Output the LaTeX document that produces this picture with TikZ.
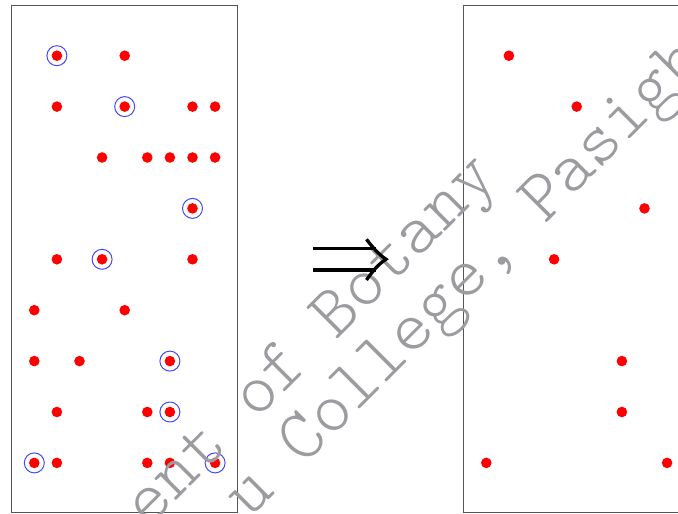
\documentclass[tikz,border=0pt]{standalone}
\usepackage{fontspec}
\newfontfamily\wmfont{lmmonolt10-regular.otf}
\definecolor{dotred}{RGB}{255,0,0}
\definecolor{ringblue}{RGB}{70,70,255}
\definecolor{framegray}{RGB}{85,85,85}
\definecolor{wmgray}{RGB}{155,155,160}
\begin{document}
\begin{tikzpicture}[x=1pt,y=-1pt,
  dot/.style={circle,fill=dotred,inner sep=0pt,minimum size=10.6pt},
  ring/.style={circle,draw=ringblue,line width=1pt,inner sep=0pt,minimum size=20pt},
  frame/.style={draw=framegray,line width=1pt},
  implies/.style={line width=3.3pt,black},
  wm/.style={font=\wmfont\fontsize{72.4}{72.4}\selectfont,text=wmgray,inner sep=0pt,anchor=base west,rotate=45}]
\useasboundingbox (0,0) rectangle (678,514);
\clip (0,0) rectangle (678,514);
\fill[white] (0,0) rectangle (678,514);
\draw[frame] (11.7,5) rectangle (237.7,512.5);
\draw[frame] (463.7,5) rectangle (689.7,512.5);
% left dots
\foreach \r/\c in {1/2,1/5,
  2/2,2/5,2/8,2/9,
  3/4,3/6,3/7,3/8,3/9,
  4/8,
  5/2,5/4,5/8,
  6/1,6/5,
  7/1,7/3,7/7,
  8/2,8/6,8/7,
  9/1,9/2,9/6,9/7,9/9}
  \node[dot] (L-\r-\c) at ({34.3+22.6*(\c-1)},{55.7+50.9*(\r-1)}) {};
% selected: rings on the left, dots on the right
\foreach \r/\c in {1/2,2/5,4/8,5/4,7/7,8/7,9/1,9/9}{
  \node[ring] (K-\r-\c) at (L-\r-\c) {};
  \node[dot] (R-\r-\c) at ({486.3+22.6*(\c-1)},{55.7+50.9*(\r-1)}) {};
}
% watermark
\node[wm] (wm1) at (148.4,528.6) {ent of Botany};
\node[wm] (wm2) at (249.3,520.0) {u College, Pasigh};
% implication arrow
\coordinate (a1) at (312.5,248.3);
\coordinate (a2) at (312.5,270);
\coordinate (b1) at (376,248.3);
\coordinate (b2) at (376,270);
\coordinate (tip) at (386,259.2);
\draw[implies] (a1) -- (b1);
\draw[implies] (a2) -- (b2);
\draw[implies,line join=miter] (366.5,239.3) .. controls (372,246.5) and (378,254) .. (tip)
  .. controls (378,264.4) and (372,272) .. (366.5,280);
\end{tikzpicture}
\end{document}
